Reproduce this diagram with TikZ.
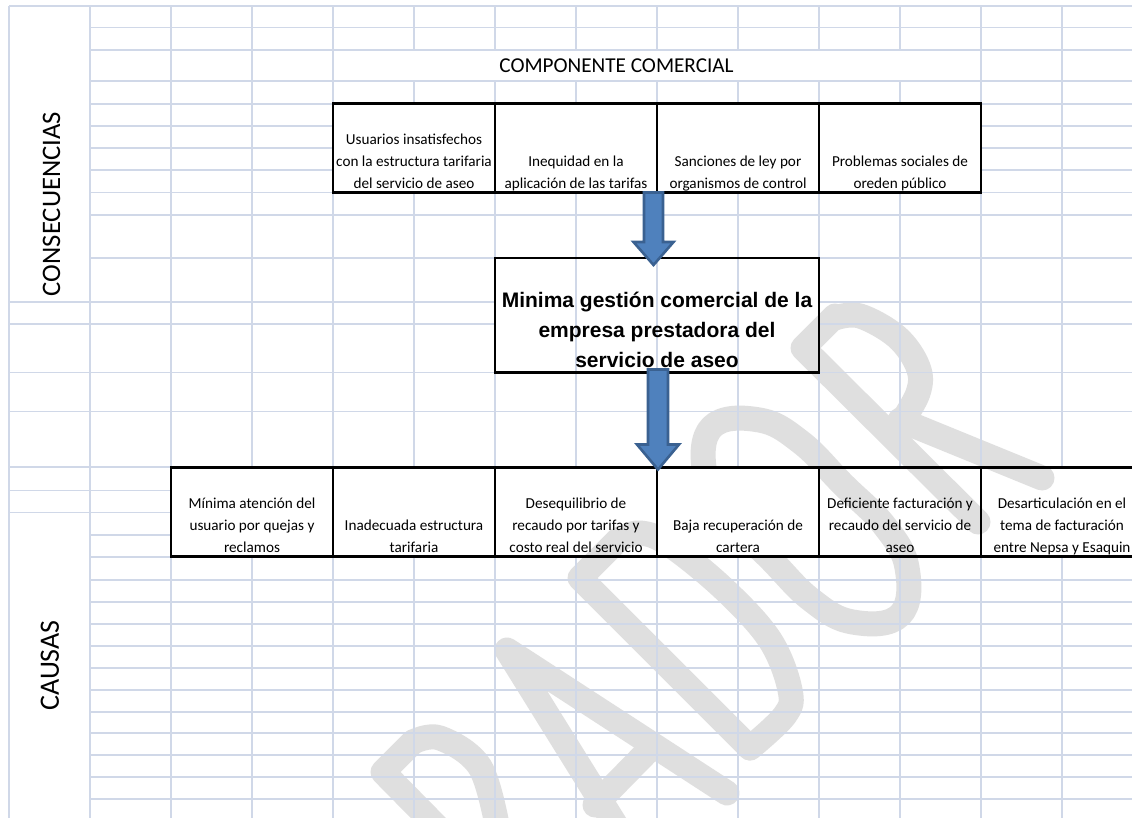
\documentclass[tikz,border=0pt]{standalone}
\usepackage{fontspec}
\setmainfont{Carlito}
\newfontfamily\headfont{Liberation Sans}
\usetikzlibrary{calc}
\definecolor{gridc}{HTML}{D0D8E8}
\definecolor{wmc}{HTML}{DFDFDF}
\definecolor{arrowfill}{HTML}{4F81BD}
\definecolor{arrowedge}{HTML}{3A6191}
\tikzset{
  x=1pt,y=-1pt,
  gridline/.style={draw=gridc,line width=1.3pt},
  wm/.style={draw=wmc,line width=25pt,line cap=round,line join=round},
  cell/.style={draw=black,line width=2.3pt,inner sep=0pt,outer sep=0pt,align=center,
     minimum width=162pt,minimum height=#1},
  cell/.default=89pt,
  blockarrow/.style={draw=arrowedge,fill=arrowfill,line width=2.6pt,line join=miter},
  sidelabel/.style={rotate=90,inner sep=0pt},
}
\newcommand{\celltext}[3]{\parbox[c][#2][b]{#1}{\fontsize{15.2}{22}\selectfont\centering #3\vrule depth 3.5pt height 0pt width 0pt\par}}
\newcommand{\blockarr}[5]{% start, end, half shaft, half head, head length
  \draw[blockarrow] ($(#1)+(-#3,0)$) -- ($(#1)+(#3,0)$) -- ($(#2)+(#3,-#5)$) -- ($(#2)+(#4,-#5)$)
     -- (#2) -- ($(#2)+(-#4,-#5)$) -- ($(#2)+(-#3,-#5)$) -- cycle;}
\begin{document}
\begin{tikzpicture}
\useasboundingbox (0,0) rectangle (1132,818);
\clip (0,0) rectangle (1132,818);
\fill[white] (0,0) rectangle (1132,818);
% watermark: BORRADOR, cropped
\draw[wm] (978,522) -- (803,348) -- (835,316);
\draw[wm] plot[smooth,tension=0.6] coordinates {(835,318) (860,316) (897,337) (918,367) (918,393) (898,428)};
\draw[wm] (900,420) -- (1042,478);
\begin{scope}[shift={(806,521)},rotate=-45]
\draw[wm] plot[smooth cycle,tension=0.7] coordinates {(133,0) (105,38) (60,52) (0,52) (-60,52) (-105,38) (-133,0) (-105,-38) (-60,-52) (0,-52) (60,-52) (105,-38)};
\end{scope}
\draw[wm] (750,748) -- (580,578) -- (618,540);
\draw[wm] plot[smooth,tension=0.6] coordinates {(618,540) (640,533) (670,545) (725,590) (770,640) (790,690) (785,715) (750,748)};
\draw[wm] (727,793) -- (507,650) -- (625,840);
\draw[wm] (647,752) -- (595,805);
\draw[wm] (450,840) -- (383,772) -- (413,742);
\draw[wm] plot[smooth,tension=0.6] coordinates {(413,742) (440,738) (480,767) (498,830)};
% grid: horizontals
\foreach \yy/\xa/\xb in {6/9/1132,27.7/90/1132,50/90/1132,81/90/1132,
  104/90/333,104/981/1132,126/90/333,126/981/1132,148/90/333,148/981/1132,170/90/333,170/981/1132,
  192.7/90/1132,215/90/1132,258/90/495,258/819/1132,
  302/9/495,302/819/1132,324/9/495,324/819/1132,372.7/9/1132,411.7/9/1132,467/9/1132,
  490.7/9/171,512.7/9/171,535/90/171,557/90/1132,
  580/90/1132,602/90/1132,624/90/1132,646/90/1132,668/90/1132,690/90/1132,712/90/1132,
  733/90/1132,755/90/1132,777/90/1132,799/90/1132}
  {\draw[gridline] (\xa,\yy) -- (\xb,\yy);}
% grid: verticals
\foreach \xx in {9,90,171}
  {\draw[gridline] (\xx,6) -- (\xx,818);}
\draw[gridline] (252,6) -- (252,467) (252,557) -- (252,818);
\draw[gridline] (333,6) -- (333,104) (333,192) -- (333,467) (333,557) -- (333,818);
\foreach \xx in {414,495,576,657,738,819,900}
  {\draw[gridline] (\xx,6) -- (\xx,50) (\xx,81) -- (\xx,104) (\xx,192) -- (\xx,467) (\xx,557) -- (\xx,818);}
\foreach \xx in {981,1062}
  {\draw[gridline] (\xx,6) -- (\xx,104) (\xx,192) -- (\xx,467) (\xx,557) -- (\xx,818);}
\draw[gridline] (1062,104) -- (1062,192);
% side labels and title
\node[sidelabel,font=\fontsize{26.7}{30}\selectfont] (lblcons) at (51.5,204) {CONSECUENCIAS};
\node[sidelabel,font=\fontsize{28}{30}\selectfont] (lblcaus) at (50,665.5) {CAUSAS};
\node[inner sep=0pt,font=\fontsize{21.2}{24}\selectfont] (titulo) at (616.5,66) {COMPONENTE COMERCIAL};
% consequences row
\node[cell,anchor=north west] (c1) at (333,103.5) {\celltext{160pt}{85pt}{Usuarios insatisfechos\\con la estructura tarifaria\\del servicio de aseo}};
\node[cell,anchor=north west] (c2) at (495,103.5) {\celltext{160pt}{85pt}{Inequidad en la\\aplicación de las tarifas}};
\node[cell,anchor=north west] (c3) at (657,103.5) {\celltext{160pt}{85pt}{Sanciones de ley por\\organismos de control}};
\node[cell,anchor=north west] (c4) at (819,103.5) {\celltext{160pt}{85pt}{Problemas sociales de\\oreden público}};
% central problem
\node[cell=114.5pt,anchor=north west,minimum width=324pt,font=\headfont\bfseries\fontsize{21}{30}\selectfont] (prob) at (495,258)
  {\parbox[c][108pt][b]{322pt}{\centering Minima gestión comercial de la\\empresa prestadora del\\servicio de aseo\vrule depth 4.5pt height 0pt width 0pt\par}};
% causes row
\node[cell,anchor=north west] (e1) at (171,467.5) {\celltext{160pt}{85pt}{Mínima atención del\\usuario por quejas y\\reclamos}};
\node[cell,anchor=north west] (e2) at (333,467.5) {\celltext{160pt}{85pt}{Inadecuada estructura\\tarifaria}};
\node[cell,anchor=north west] (e3) at (495,467.5) {\celltext{160pt}{85pt}{Desequilibrio de\\recaudo por tarifas y\\costo real del servicio}};
\node[cell,anchor=north west,fill=white] (e4) at (657,467.5) {\celltext{160pt}{85pt}{Baja recuperación de\\cartera}};
\node[cell,anchor=north west] (e5) at (819,467.5) {\celltext{160pt}{85pt}{Deficiente facturación y\\recaudo del servicio de\\aseo}};
\node[cell,anchor=north west] (e6) at (981,467.5) {\celltext{160pt}{85pt}{Desarticulación en el\\tema de facturación\\entre Nepsa y Esaquin}};
% block arrows
\coordinate (a1s) at ($(c2.south east)+(-3.5,0)$);
\coordinate (a1e) at ($(a1s |- prob.north)+(0,7)$);
\blockarr{a1s}{a1e}{9.5}{20}{23}
\coordinate (a2s) at ($(prob.south)+(1,-3)$);
\coordinate (a2e) at ($(a2s |- e4.north)+(0,2)$);
\blockarr{a2s}{a2e}{10}{21}{25}
\end{tikzpicture}
\end{document}
